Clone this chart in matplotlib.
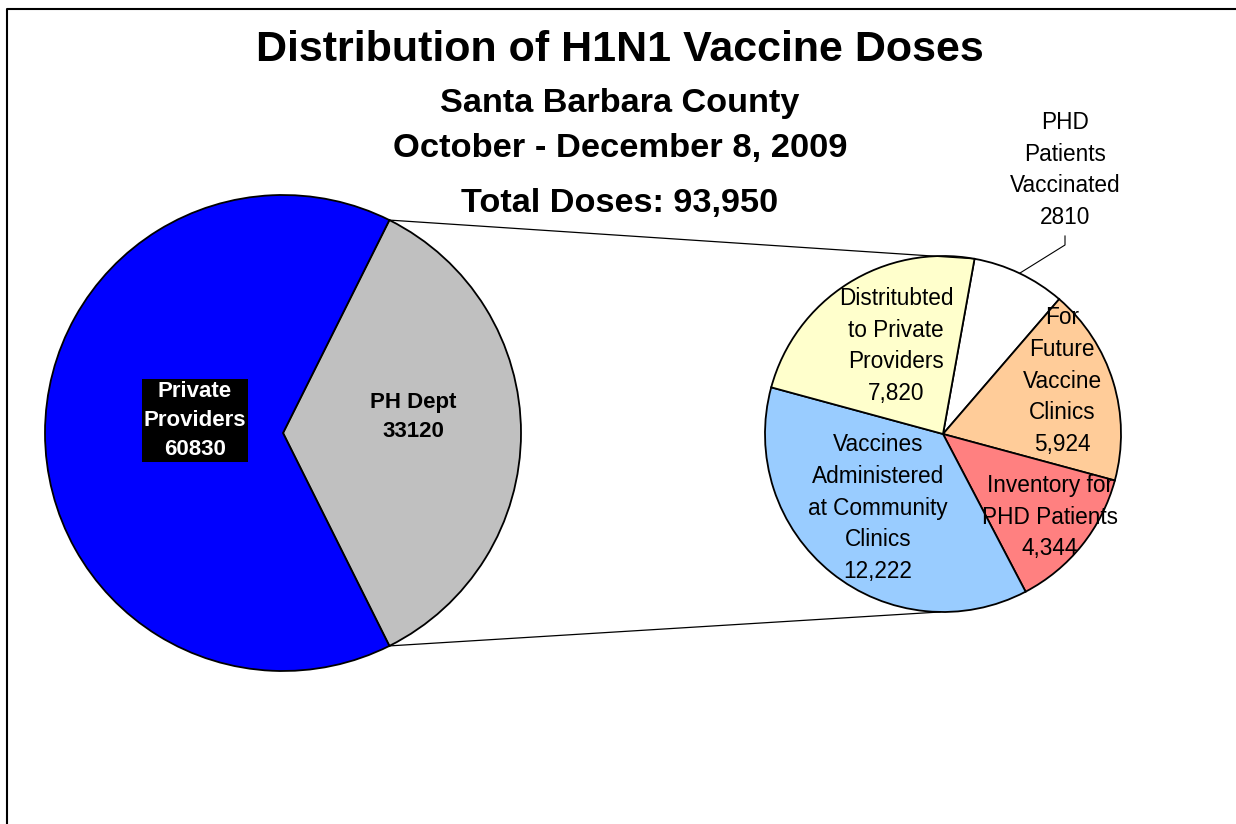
import matplotlib.pyplot as plt
import numpy as np

plt.rcParams['font.family'] = ['Liberation Sans', 'DejaVu Sans']

# figure is laid out in pixel units (1236 x 824)
W, H = 1236, 824

# main pie: total doses split
main_labels = ['PH Dept', 'Private\nProviders']
main_values = [33120, 60830]
main_colors = ['#C0C0C0', '#0000FF']

# secondary pie: what PH Dept did with its doses (clockwise from the top)
sub_labels = ['PHD\nPatients\nVaccinated',
              'For\nFuture\nVaccine\nClinics',
              'Inventory for\nPHD Patients',
              'Vaccines\nAdministered\nat Community\nClinics',
              'Distritubted\nto Private\nProviders']
sub_values = [2810, 5924, 4344, 12222, 7820]
sub_colors = ['#FFFFFF', '#FFCC99', '#FF8080', '#99CCFF', '#FFFFCC']
sub_fmt = ['{}', '{:,}', '{:,}', '{:,}', '{:,}']

total = sum(main_values)


def Y(py):
    return H - py


def on_circle(c, r, ang):
    a = np.deg2rad(ang)
    return c[0] + r * np.cos(a), c[1] + r * np.sin(a)


fig = plt.figure(figsize=(12.36, 8.24), dpi=100)
ax = fig.add_axes([0, 0, 1, 1])

# outer frame
ax.plot([7, 7, W + 5], [-5, Y(9), Y(9)], color='black', lw=1.5)

# big pie, gray slice centred on the right
c1, r1 = (283, Y(433)), 238
half = 360 * main_values[0] / total / 2
ax.pie(main_values, colors=main_colors, startangle=half, counterclock=False,
       center=c1, radius=r1, frame=True,
       wedgeprops=dict(edgecolor='black', linewidth=1.3))

# small pie
c2, r2 = (943, Y(434)), 178
start2 = 79.8
ax.pie(sub_values, colors=sub_colors, startangle=start2, counterclock=False,
       center=c2, radius=r2, frame=True,
       wedgeprops=dict(edgecolor='black', linewidth=1.3))
ax.set_xlim(0, W)
ax.set_ylim(0, H)
ax.set_aspect('equal')
ax.axis('off')

# connector lines between the pies
p1 = on_circle(c1, r1, half)
q1 = on_circle(c2, r2, start2)
p2 = on_circle(c1, r1, -half)
q2 = on_circle(c2, r2, -91)
ax.plot([p1[0], q1[0]], [p1[1], q1[1]], color='black', lw=0.9)
ax.plot([p2[0], q2[0]], [p2[1], q2[1]], color='black', lw=0.9)

# main pie labels
ax.text(195, Y(420), '{}\n{}'.format(main_labels[1], main_values[1]),
        ha='center', va='center', fontsize=16, fontweight='bold',
        color='white', linespacing=1.5,
        bbox=dict(facecolor='black', edgecolor='none', pad=1.5))
ax.text(413, Y(417), '{}\n{}'.format(main_labels[0], main_values[0]),
        ha='center', va='center', fontsize=16, fontweight='bold',
        color='black', linespacing=1.5)

# small pie labels
sub_pos = [(1065, Y(170)), (1062, Y(381)), (1050, Y(517)),
           (878, Y(508)), (896, Y(346))]
for lab, v, f, pos in zip(sub_labels, sub_values, sub_fmt, sub_pos):
    ax.text(pos[0], pos[1], lab + '\n' + f.format(v), ha='center',
            va='center', fontsize=16.3, linespacing=1.48)

# leader line for the small white slice
mid = start2 - 360 * sub_values[0] / sum(sub_values) / 2
pm = on_circle(c2, r2, mid)
ax.plot([pm[0], 1065, 1065], [pm[1], Y(245), Y(236)], color='black', lw=0.8)

# titles
ax.text(620, Y(61), 'Distribution of H1N1 Vaccine Doses', ha='center',
        va='baseline', fontsize=31, fontweight='bold')
ax.text(620, Y(112), 'Santa Barbara County', ha='center', va='baseline',
        fontsize=24.7, fontweight='bold')
ax.text(620, Y(157), 'October - December 8, 2009', ha='center',
        va='baseline', fontsize=24.8, fontweight='bold')
ax.text(620, Y(212), 'Total Doses: {:,}'.format(total), ha='center',
        va='baseline', fontsize=24.7, fontweight='bold')

fig.savefig('out.png', dpi=100)
